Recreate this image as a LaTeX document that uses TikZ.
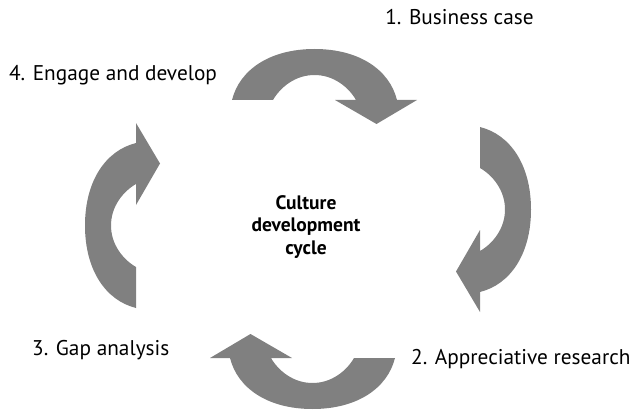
\documentclass[tikz,border=0pt]{standalone}
\usepackage{fontspec}
\setmainfont{PT Sans}
\begin{document}
\begin{tikzpicture}[x=1pt,y=1pt,
  arrowfill/.style={fill=black!50!white},
  lbl/.style={inner sep=0pt, anchor=base west, font=\fontsize{21.3}{25}\selectfont},
  ctr/.style={inner sep=0pt, align=center, font=\fontsize{19.5}{22.5}\selectfont\bfseries},
  cyc/.pic={
    \fill[arrowfill] (-82.5,0) .. controls (-75,30) and (-45,51) .. (0,51)
      .. controls (45,51) and (75,30) .. (82.5,0) -- (102.5,0) -- (62,-24)
      -- (20.5,0) -- (41.5,0) .. controls (34,13) and (19,25) .. (0,25)
      .. controls (-19,25) and (-34,13) .. (-41.5,0) -- cycle;
  }]
\useasboundingbox (0,0) rectangle (635,-412);
\pic[shift={(314.5,-100)}] {cyc};
\pic[shift={(480,-209.5)}, rotate=-90] {cyc};
\pic[shift={(312.5,-358)}, rotate=180] {cyc};
\pic[shift={(136,-225.5)}, rotate=90] {cyc};
\node[lbl, anchor=base] (l1) at (459.5,-25) {1. Business case};
\node[lbl] (l2) at (411,-364) {2. Appreciative research};
\node[lbl] (l3) at (32,-355.5) {3. Gap analysis};
\node[lbl, anchor=base] (l4) at (113,-80.5) {4. Engage and develop};
\node[ctr] (c) at (306,-227) {Culture\\development\\cycle};
\end{tikzpicture}
\end{document}
